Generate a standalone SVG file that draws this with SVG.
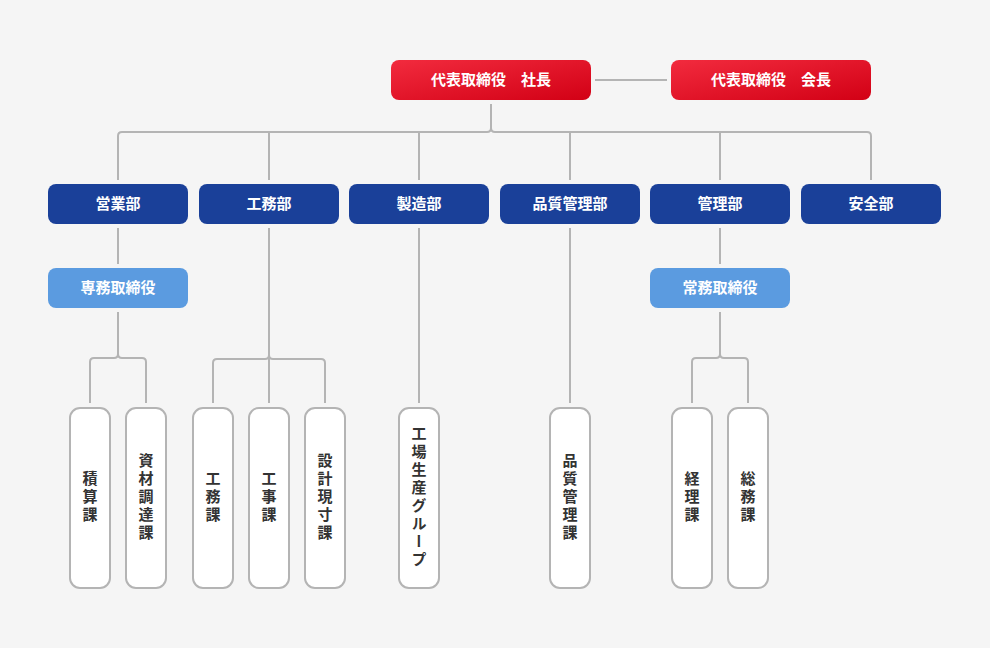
<svg xmlns="http://www.w3.org/2000/svg" width="990" height="648" viewBox="0 0 990 648">
<defs>
<linearGradient id="red" x1="0" y1="0" x2="1" y2="1"><stop offset="0" stop-color="#f22b3e"/><stop offset="1" stop-color="#d20015"/></linearGradient>
<style>
.t{font-family:"Noto Sans CJK JP","Noto Sans",sans-serif;font-weight:bold;font-size:15px;text-anchor:middle;}
.w{fill:#fff;}
.d{fill:#1a4099;}
.s{fill:#5b9be0;}
.leaf{fill:#fff;stroke:#b4b4b4;stroke-width:2;}
.v{fill:#333;writing-mode:vertical-rl;letter-spacing:3px;}
.c{fill:none;stroke:#b4b4b4;stroke-width:2;}
</style>
</defs>
<rect width="990" height="648" fill="#f5f5f5"/>
<g id="connectors">
<path class="c" d="M595 80 H667"/>
<path class="c" d="M491 104 V128 Q491 132 487 132 H122 Q118 132 118 136 V180 M491 128 Q491 132 495 132 H867 Q871 132 871 136 V180"/>
<path class="c" d="M269 132 V180 M419 132 V180 M570 132 V180 M720 132 V180"/>
<path class="c" d="M118 228 V264 M118 312 V354 Q118 358 114 358 H94 Q90 358 90 362 V403 M118 354 Q118 358 122 358 H142 Q146 358 146 362 V403"/>
<path class="c" d="M269 228 V403 M269 355 Q269 359 265 359 H217 Q213 359 213 363 V403 M269 355 Q269 359 273 359 H321 Q325 359 325 363 V403"/>
<path class="c" d="M419 228 V403 M570 228 V403"/>
<path class="c" d="M720 228 V264 M720 312 V354 Q720 358 716 358 H696 Q692 358 692 362 V403 M720 354 Q720 358 724 358 H744 Q748 358 748 362 V403"/>
</g>
<g id="president"><rect x="391" y="60" width="200" height="40" rx="8" fill="url(#red)"/><text class="t w" x="491" y="85">代表取締役　社長</text></g>
<g id="chairman"><rect x="671" y="60" width="200" height="40" rx="8" fill="url(#red)"/><text class="t w" x="771" y="85">代表取締役　会長</text></g>
<g id="eigyo"><rect class="d" x="48" y="184" width="140" height="40" rx="8"/><text class="t w" x="118" y="209">営業部</text></g>
<g id="koumu"><rect class="d" x="199" y="184" width="140" height="40" rx="8"/><text class="t w" x="269" y="209">工務部</text></g>
<g id="seizo"><rect class="d" x="349" y="184" width="140" height="40" rx="8"/><text class="t w" x="419" y="209">製造部</text></g>
<g id="hinshitsu"><rect class="d" x="500" y="184" width="140" height="40" rx="8"/><text class="t w" x="570" y="209">品質管理部</text></g>
<g id="kanri"><rect class="d" x="650" y="184" width="140" height="40" rx="8"/><text class="t w" x="720" y="209">管理部</text></g>
<g id="anzen"><rect class="d" x="801" y="184" width="140" height="40" rx="8"/><text class="t w" x="871" y="209">安全部</text></g>
<g id="senmu"><rect class="s" x="48" y="268" width="140" height="40" rx="8"/><text class="t w" x="118" y="293">専務取締役</text></g>
<g id="joumu"><rect class="s" x="650" y="268" width="140" height="40" rx="8"/><text class="t w" x="720" y="293">常務取締役</text></g>
<g id="sekisan"><rect class="leaf" x="70" y="408" width="40" height="180" rx="10"/><text class="t v" x="90" y="498">積算課</text></g>
<g id="shizai"><rect class="leaf" x="126" y="408" width="40" height="180" rx="10"/><text class="t v" x="146" y="498">資材調達課</text></g>
<g id="koumuka"><rect class="leaf" x="193" y="408" width="40" height="180" rx="10"/><text class="t v" x="213" y="498">工務課</text></g>
<g id="kojika"><rect class="leaf" x="249" y="408" width="40" height="180" rx="10"/><text class="t v" x="269" y="498">工事課</text></g>
<g id="sekkei"><rect class="leaf" x="305" y="408" width="40" height="180" rx="10"/><text class="t v" x="325" y="498">設計現寸課</text></g>
<g id="kojo"><rect class="leaf" x="399" y="408" width="40" height="180" rx="10"/><text class="t v" x="419" y="498">工場生産グループ</text></g>
<g id="hinshitsuka"><rect class="leaf" x="550" y="408" width="40" height="180" rx="10"/><text class="t v" x="570" y="498">品質管理課</text></g>
<g id="keiri"><rect class="leaf" x="672" y="408" width="40" height="180" rx="10"/><text class="t v" x="692" y="498">経理課</text></g>
<g id="soumu"><rect class="leaf" x="728" y="408" width="40" height="180" rx="10"/><text class="t v" x="748" y="498">総務課</text></g>
</svg>
